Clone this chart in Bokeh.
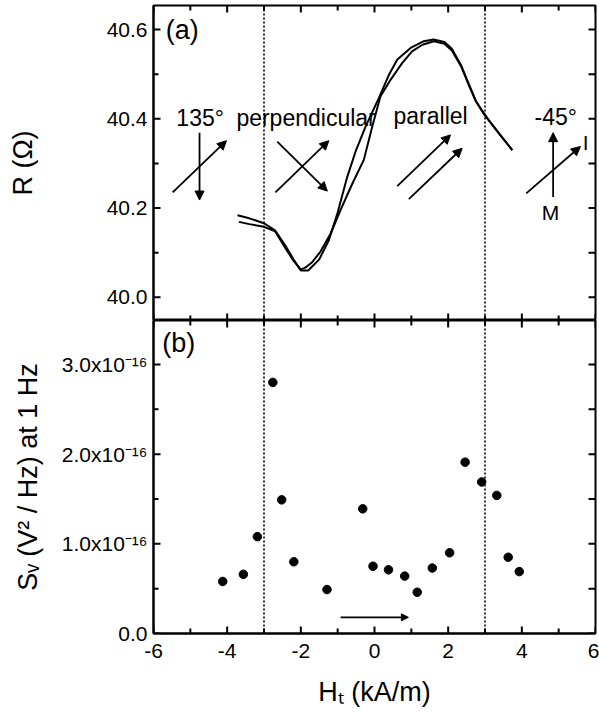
from bokeh.plotting import figure
from bokeh.layouts import column
from bokeh.models import (Range1d, LinearAxis, FixedTicker, PrintfTickFormatter,
                          Span, Arrow, NormalHead, ColumnDataSource)
from bokeh.core.properties import value
from bokeh.embed import file_html
from bokeh.resources import INLINE

FONT = "Liberation Sans"

# ---------------- data: panel (a) R vs H ----------------
h_sweep1 = [-3.72, -3.4, -3.0, -2.7, -2.4, -2.2, -2.0, -1.8, -1.5, -1.24, -1.0, -0.74, -0.5,
            -0.24, 0.12, 0.4, 0.62, 0.98, 1.34, 1.6, 1.9, 2.1, 2.35, 2.55, 2.75, 2.95, 3.1,
            3.4, 3.74]
r_sweep1 = [40.184, 40.177, 40.166, 40.150, 40.113, 40.085, 40.060, 40.060, 40.085, 40.128,
            40.19, 40.270, 40.33, 40.383, 40.447, 40.50, 40.533, 40.559, 40.574, 40.578,
            40.572, 40.557, 40.52, 40.48, 40.44, 40.415, 40.397, 40.365, 40.33]
h_sweep2 = [-3.68, -3.4, -3.0, -2.7, -2.4, -2.2, -2.0, -1.87, -1.7, -1.47, -1.19, -0.92, -0.6,
            -0.29, -0.06, 0.16, 0.44, 0.75, 1.02, 1.3, 1.61, 1.9, 2.1, 2.35, 2.55, 2.75, 2.95,
            3.1, 3.4, 3.74]
r_sweep2 = [40.169, 40.164, 40.158, 40.148, 40.108, 40.082, 40.062, 40.067, 40.078, 40.102,
            40.143, 40.196, 40.255, 40.308, 40.383, 40.450, 40.488, 40.525, 40.551, 40.566,
            40.574, 40.568, 40.553, 40.518, 40.478, 40.44, 40.413, 40.397, 40.365, 40.33]

# ---------------- data: panel (b) noise vs H ----------------
h_noise = [-4.12, -3.56, -3.18, -2.76, -2.52, -2.19, -1.29, -0.32, -0.04, 0.38, 0.82, 1.16,
           1.57, 2.04, 2.46, 2.91, 3.32, 3.63, 3.93]
sv_1e16 = [0.58, 0.66, 1.08, 2.80, 1.49, 0.80, 0.49, 1.39, 0.75, 0.71, 0.64, 0.46,
           0.73, 0.90, 1.91, 1.69, 1.54, 0.85, 0.69]

# ---------------- axes / ticks ----------------
x_lim = (-6, 6)
r_lim = (39.948, 40.654)
sv_lim = (0, 3.49)
x_major = [-6, -4, -2, 0, 2, 4, 6]
x_minor = [-5, -3, -1, 1, 3, 5]
r_major = [40.0, 40.2, 40.4, 40.6]
r_minor = [40.1, 40.3, 40.5]
sv_major = [0, 1, 2, 3]
sv_minor = [0.5, 1.5, 2.5]
sv_labels = {0: "0.0", 1: "1.0x10\u207b\u00b9\u2076", 2: "2.0x10\u207b\u00b9\u2076",
             3: "3.0x10\u207b\u00b9\u2076"}
boundaries = [-3, 3]

# ---------------- annotations (a) ----------------
arrow_x0 = [-5.48, -4.75, -2.69, -2.64, 0.617, 0.932, 4.85, 4.12]
arrow_y0 = [40.235, 40.369, 40.235, 40.349, 40.249, 40.220, 40.225, 40.233]
arrow_x1 = [-4.02, -4.75, -1.24, -1.28, 2.064, 2.38, 4.85, 5.59]
arrow_y1 = [40.351, 40.218, 40.351, 40.238, 40.364, 40.334, 40.369, 40.338]
label_text = ["135\u00b0", "perpendicular", "parallel", "-45\u00b0"]
label_x = [-5.38, -3.75, 0.516, 4.345]
label_y = [40.402, 40.402, 40.407, 40.405]
im_text = ["I", "M"]
im_x = [5.73, 4.78]
im_y = [40.348, 40.191]
field_arrow = dict(x0=[-0.92], y0=[0.18], x1=[0.92], y1=[0.18])

# ---------------- layout (pixels) ----------------
W = 599
LEFT, RIGHT, TOPB, BOTB = 153, 4, 5, 80
FRAME_W = W - LEFT - RIGHT
TOP_FRAME_H, BOT_FRAME_H = 315, 313
MAJ, MIN = 7, 5   # inward tick lengths in px


def style_axis(ax, size="21px", standoff=6):
    ax.major_tick_in = 0
    ax.major_tick_out = 0
    ax.minor_tick_in = 0
    ax.minor_tick_out = 0
    ax.major_tick_line_color = None
    ax.minor_tick_line_color = None
    ax.axis_line_width = 2
    ax.axis_line_color = "black"
    ax.major_label_text_font = FONT
    ax.major_label_text_font_size = size
    ax.major_label_text_color = "black"
    ax.major_label_standoff = standoff
    ax.axis_label_text_font = FONT
    ax.axis_label_text_font_style = "normal"
    ax.axis_label_text_color = "black"
    return ax


def base(p):
    p.outline_line_color = "black"
    p.outline_line_width = 2
    p.background_fill_color = "white"
    p.border_fill_color = "white"
    p.grid.visible = False
    for loc in boundaries:
        p.add_layout(Span(location=loc, dimension="height", line_color="black",
                          line_width=1.6, line_dash="2 2"))


def inward_ticks(p, ylim, frame_h, y_major, y_minor, y_right):
    """mirrored inward tick marks on all four sides of the frame"""
    dx = (x_lim[1] - x_lim[0]) / FRAME_W
    dy = (ylim[1] - ylim[0]) / frame_h
    x0, x1, y0, y1 = [], [], [], []
    for xs, L in ((x_major, MAJ), (x_minor, MIN)):
        for xv in xs:
            x0 += [xv, xv]
            x1 += [xv, xv]
            y0 += [ylim[0], ylim[1]]
            y1 += [ylim[0] + L * dy, ylim[1] - L * dy]
    for ys, L in ((y_major, MAJ), (y_minor, MIN)):
        for yv in ys:
            x0.append(x_lim[0])
            x1.append(x_lim[0] + L * dx)
            y0.append(yv)
            y1.append(yv)
    for yv in y_right:
        x0.append(x_lim[1])
        x1.append(x_lim[1] - MAJ * dx)
        y0.append(yv)
        y1.append(yv)
    p.segment(x0=x0, y0=y0, x1=x1, y1=y1, line_color="black", line_width=2)


# ---------------- panel (a) ----------------
top = figure(width=W, height=TOPB + TOP_FRAME_H, x_range=Range1d(*x_lim), y_range=Range1d(*r_lim),
             output_backend="svg", toolbar_location=None,
             x_axis_location=None, y_axis_location=None,
             min_border_left=LEFT, min_border_right=RIGHT, min_border_top=TOPB,
             min_border_bottom=0)
base(top)

ax = style_axis(LinearAxis(ticker=FixedTicker(ticks=r_major, minor_ticks=r_minor),
                           formatter=PrintfTickFormatter(format="%.1f")))
ax.axis_label = "R (\u03a9)"
ax.axis_label_text_font_size = "27px"
ax.axis_label_standoff = 66
top.add_layout(ax, "left")
inward_ticks(top, r_lim, TOP_FRAME_H, r_major, r_minor, r_major + r_minor)

top.line(h_sweep1, r_sweep1, line_color="black", line_width=2)
top.line(h_sweep2, r_sweep2, line_color="black", line_width=2)

arr_src = ColumnDataSource(dict(x0=arrow_x0, y0=arrow_y0, x1=arrow_x1, y1=arrow_y1))
top.add_layout(Arrow(source=arr_src, x_start="x0", y_start="y0", x_end="x1", y_end="y1",
                     line_color="black", line_width=1.8,
                     end=NormalHead(size=9, fill_color="black", line_color="black",
                                    line_width=1)))

top.text(x=label_x, y=label_y, text=label_text, text_font=value(FONT),
         text_font_size="23px", text_baseline="middle", text_align="left",
         text_color="black")
top.text(x=im_x, y=im_y, text=im_text, text_font=value(FONT),
         text_font_size="21px", text_baseline="middle", text_align="center",
         text_color="black")
top.text(x=[-5.67], y=[40.6], text=["(a)"], text_font=value(FONT),
         text_font_size="27px", text_baseline="middle", text_align="left",
         text_color="black")

# ---------------- panel (b) ----------------
bot = figure(width=W, height=BOT_FRAME_H + BOTB, x_range=Range1d(*x_lim), y_range=Range1d(*sv_lim),
             output_backend="svg", toolbar_location=None,
             x_axis_location=None, y_axis_location=None,
             min_border_left=LEFT, min_border_right=RIGHT, min_border_top=0,
             min_border_bottom=BOTB)
base(bot)

ay = style_axis(LinearAxis(ticker=FixedTicker(ticks=sv_major, minor_ticks=sv_minor)))
ay.major_label_overrides = sv_labels
ay.axis_label = "S\u1d65 (V\u00b2 / Hz) at 1 Hz"
ay.axis_label_text_font_size = "27px"
ay.axis_label_standoff = 16
bot.add_layout(ay, "left")
axb = style_axis(LinearAxis(ticker=FixedTicker(ticks=x_major, minor_ticks=x_minor),
                            formatter=PrintfTickFormatter(format="%d")),
                 standoff=10)
axb.axis_label = "H\u209c (kA/m)"
axb.axis_label_text_font_size = "27px"
axb.axis_label_standoff = 16
bot.add_layout(axb, "below")
inward_ticks(bot, sv_lim, BOT_FRAME_H, sv_major, sv_minor, sv_major + sv_minor)

bot.scatter(h_noise, sv_1e16, size=8.5, marker="circle", fill_color="black", line_color="black")

bot.add_layout(Arrow(source=ColumnDataSource(field_arrow), x_start="x0", y_start="y0",
                     x_end="x1", y_end="y1", line_color="black", line_width=1.6,
                     end=NormalHead(size=7, fill_color="black", line_color="black",
                                    line_width=1)))
bot.text(x=[-5.76], y=[3.24], text=["(b)"], text_font=value(FONT),
         text_font_size="27px", text_baseline="middle", text_align="left",
         text_color="black")

layout = column(top, bot, spacing=0)
open("out.html", "w").write(file_html(layout, INLINE))
